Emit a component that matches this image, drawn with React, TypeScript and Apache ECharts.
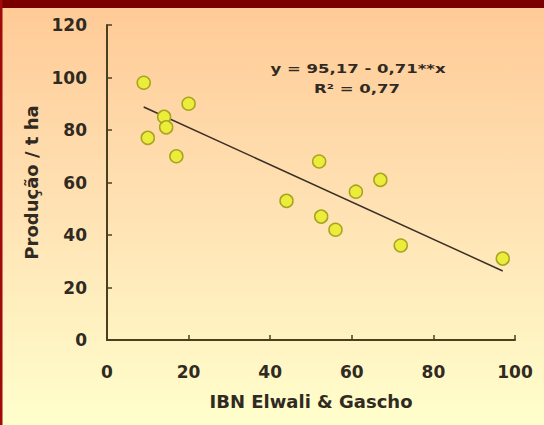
import React, { useEffect, useRef } from "react";
import * as echarts from "echarts";

const ibnValues = [9, 10, 14, 14.5, 17, 20, 44, 52, 52.5, 56, 61, 67, 72, 97];
const productionValues = [98, 77, 85, 81, 70, 90, 53, 68, 47, 42, 56.5, 61, 36, 31];
const regressionIntercept = 95.17;
const regressionSlope = -0.71;
const regressionXRange = [9, 97];
const equationLine1 = "y = 95,17 - 0,71**x";
const equationLine2 = "R² = 0,77";
const xTicks = [0, 20, 40, 60, 80, 100];
const yTicks = [0, 20, 40, 60, 80, 100, 120];

export default function App() {
  const ref = useRef<HTMLDivElement>(null);
  useEffect(() => {
    document.body.style.margin = "0";
    if (!ref.current) return;
    const chart = echarts.init(ref.current, null, { renderer: "svg" });
    const points = ibnValues.map((x, i) => [x, productionValues[i]]);
    const regLine = regressionXRange.map((x) => [x, regressionIntercept + regressionSlope * x]);
    const font = "DejaVu Sans";
    const axisColor = "#4a4020";
    const textColor = "#302a22";
    chart.setOption({
      animation: false,
      graphic: [
        {
          type: "rect",
          z: -10,
          silent: true,
          shape: { x: 0, y: 0, width: 544, height: 425 },
          style: {
            fill: new echarts.graphic.LinearGradient(0, 0, 0, 1, [
              { offset: 0, color: "#ffca96" },
              { offset: 0.5, color: "#ffe2b4" },
              { offset: 1, color: "#ffffcc" },
            ]),
          },
        },
        {
          type: "rect",
          z: -9,
          silent: true,
          shape: { x: 0, y: 0, width: 544, height: 8 },
          style: { fill: "#7a0000" },
        },
        {
          type: "rect",
          z: -9,
          silent: true,
          shape: { x: 0, y: 0, width: 2.5, height: 425 },
          style: { fill: "#a00a0a" },
        },
        {
          type: "text",
          x: 358,
          y: 69,
          scaleX: 1.27,
          style: {
            text: equationLine1,
            fontFamily: font,
            fontWeight: "bold",
            fontSize: 13,
            fill: textColor,
            textAlign: "center",
            textVerticalAlign: "middle",
          },
        },
        {
          type: "text",
          x: 357,
          y: 89,
          scaleX: 1.27,
          style: {
            text: equationLine2,
            fontFamily: font,
            fontWeight: "bold",
            fontSize: 13,
            fill: textColor,
            textAlign: "center",
            textVerticalAlign: "middle",
          },
        },
      ],
      grid: { left: 107, right: 29, top: 25, bottom: 85 },
      xAxis: {
        type: "value",
        min: xTicks[0],
        max: xTicks[xTicks.length - 1],
        interval: 20,
        name: "IBN Elwali & Gascho",
        nameLocation: "middle",
        nameGap: 52,
        nameTextStyle: { fontFamily: font, fontWeight: "bold", fontSize: 18, color: textColor },
        axisLine: { show: true, lineStyle: { color: axisColor, width: 2 } },
        axisTick: { show: true, inside: true, length: 5, lineStyle: { color: axisColor, width: 1.5 } },
        axisLabel: { margin: 23, fontFamily: font, fontWeight: "bold", fontSize: 17, color: textColor },
        splitLine: { show: false },
      },
      yAxis: {
        type: "value",
        min: yTicks[0],
        max: yTicks[yTicks.length - 1],
        interval: 20,
        name: "Produção / t ha",
        nameLocation: "middle",
        nameGap: 66,
        nameTextStyle: { fontFamily: font, fontWeight: "bold", fontSize: 18, color: textColor },
        axisLine: { show: true, lineStyle: { color: axisColor, width: 2 } },
        axisTick: { show: true, inside: true, length: 5, lineStyle: { color: axisColor, width: 1.5 } },
        axisLabel: { margin: 20, fontFamily: font, fontWeight: "bold", fontSize: 17, color: textColor },
        splitLine: { show: false },
      },
      series: [
        {
          type: "line",
          data: regLine,
          symbol: "none",
          lineStyle: { color: "#3a3025", width: 1.5 },
          z: 2,
        },
        {
          type: "scatter",
          data: points,
          symbol: "circle",
          symbolSize: 13,
          itemStyle: { color: "#ecec3a", borderColor: "#a8a422", borderWidth: 1.5, opacity: 1 },
          z: 3,
        },
      ],
    });
    return () => chart.dispose();
  }, []);
  return <div ref={ref} style={{ position: "absolute", left: 0, top: 0, width: 544, height: 425 }} />;
}
